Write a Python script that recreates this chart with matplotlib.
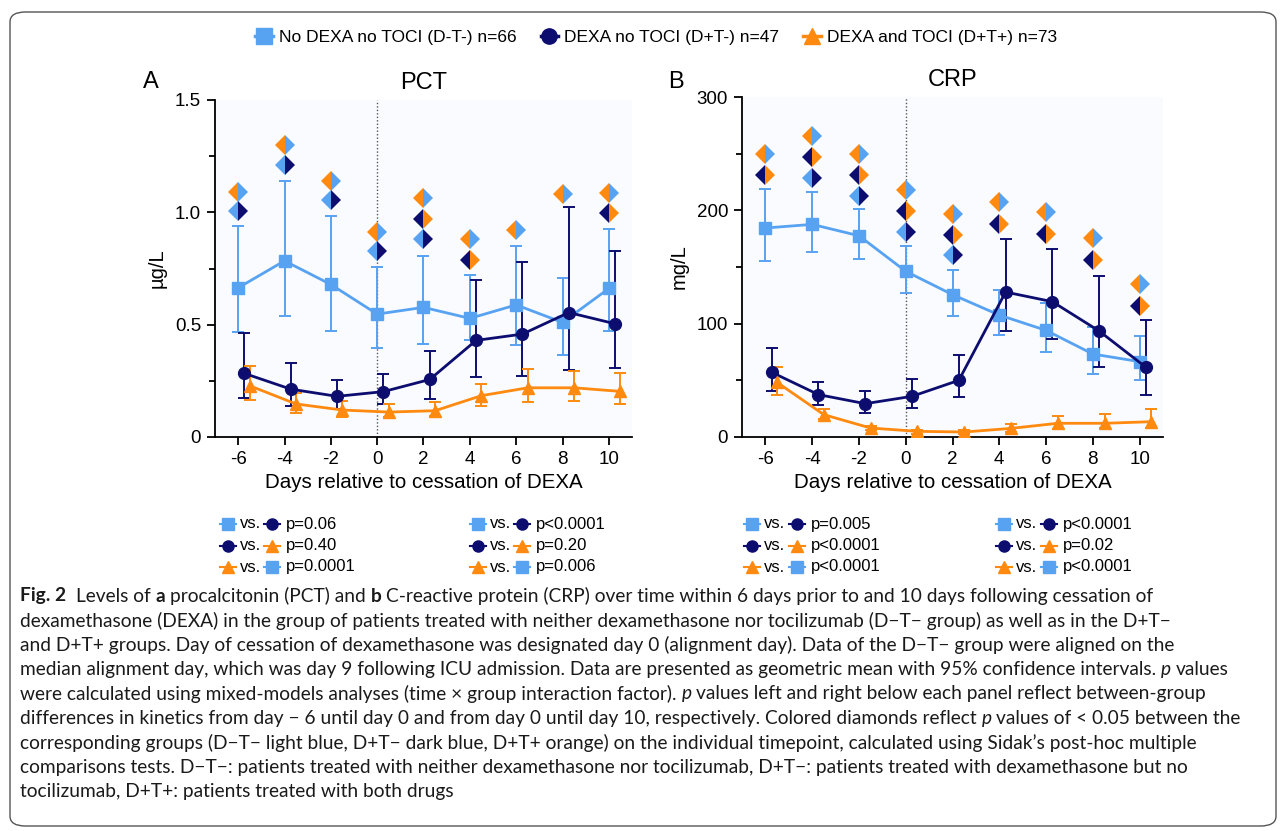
import re
import matplotlib
matplotlib.use("Agg")
import matplotlib.pyplot as plt
from matplotlib.lines import Line2D
from matplotlib.patches import FancyBboxPatch

W, H = 1282, 831

# ---- data ----
days = [-6, -4, -2, 0, 2, 4, 6, 8, 10]

# PCT (ug/L): geometric mean, upper and lower 95% CI
pct_dt = [0.664, 0.784, 0.679, 0.547, 0.577, 0.528, 0.588, 0.510, 0.661]
pct_dt_hi = [0.940, 1.140, 0.984, 0.757, 0.806, 0.723, 0.852, 0.707, 0.928]
pct_dt_lo = [0.468, 0.538, 0.470, 0.394, 0.412, 0.430, 0.408, 0.363, 0.473]
pct_dm = [0.283, 0.213, 0.181, 0.202, 0.256, 0.430, 0.458, 0.554, 0.504]
pct_dm_hi = [0.462, 0.328, 0.255, 0.282, 0.385, 0.698, 0.780, 1.024, 0.829]
pct_dm_lo = [0.173, 0.139, 0.125, 0.147, 0.169, 0.267, 0.270, 0.298, 0.307]
pct_dp = [0.228, 0.147, 0.120, 0.111, 0.117, 0.184, 0.219, 0.219, 0.203]
pct_dp_hi = [0.317, 0.196, 0.162, 0.148, 0.154, 0.237, 0.301, 0.295, 0.286]
pct_dp_lo = [0.163, 0.105, 0.090, 0.090, 0.092, 0.139, 0.157, 0.162, 0.145]

# CRP (mg/L)
crp_dt = [184.4, 187.6, 177.6, 146.2, 125.6, 107.6, 94.1, 73.2, 66.5]
crp_dt_hi = [218.8, 216.2, 201.5, 168.5, 147.4, 130.0, 118.2, 97.1, 88.8]
crp_dt_lo = [155.0, 162.9, 157.1, 127.1, 107.1, 90.0, 75.3, 55.6, 50.0]
crp_dm = [57.1, 37.4, 29.4, 35.9, 50.0, 127.9, 119.4, 93.5, 61.5]
crp_dm_hi = [78.5, 48.5, 40.9, 51.2, 72.6, 175.0, 165.6, 142.1, 103.2]
crp_dm_lo = [40.9, 28.5, 21.5, 25.3, 35.3, 93.8, 86.2, 61.8, 36.8]
crp_dp = [48.2, 19.7, 7.9, 5.0, 4.4, 7.6, 12.1, 12.1, 13.5]
crp_dp_hi = [62.1, 25.0, 10.0, 6.5, 6.5, 11.8, 18.5, 20.0, 24.4]
crp_dp_lo = [37.1, 15.9, 5.9, 2.9, 2.9, 4.1, 7.4, 7.6, 7.9]

# significance diamonds: day, height, left half, right half
# l = D-T- light blue, d = D+T- dark blue, o = D+T+ orange
pct_dia_day = [-6, -6, -4, -4, -2, -2, 0, 0, 2, 2, 2, 4, 4, 6, 8, 10, 10]
pct_dia_y = [1.092, 1.008, 1.300, 1.211, 1.141, 1.055, 0.914, 0.827, 1.063,
             0.971, 0.880, 0.883, 0.790, 0.920, 1.080, 1.088, 0.996]
pct_dia_pair = ["ol", "ld", "ol", "ld", "ol", "ld", "ol", "ld", "ol",
                "do", "ld", "ol", "do", "ol", "ol", "ol", "do"]

crp_dia_day = [-6, -6, -4, -4, -4, -2, -2, -2, 0, 0, 0, 2, 2, 2, 4, 4, 6, 6,
               8, 8, 10, 10]
crp_dia_y = [249.7, 230.9, 265.9, 247.1, 228.8, 249.7, 231.2, 212.9, 217.9,
             199.7, 181.2, 197.1, 178.5, 160.3, 207.1, 188.2, 198.2, 179.4,
             175.3, 156.5, 134.7, 115.9]
crp_dia_pair = ["ol", "do", "ol", "do", "ld", "ol", "do", "ld", "ol", "do",
                "ld", "ol", "do", "ld", "ol", "do", "ol", "do", "ol", "do",
                "ol", "do"]

# p values of the mixed-model analyses (day -6..0 / day 0..10)
comp_pairs = ["ld", "do", "ol"]
pct_p_left = ["p=0.06", "p=0.40", "p=0.0001"]
pct_p_right = ["p<0.0001", "p=0.20", "p=0.006"]
crp_p_left = ["p=0.005", "p<0.0001", "p<0.0001"]
crp_p_right = ["p<0.0001", "p=0.02", "p<0.0001"]

legend_labels = ["No DEXA no TOCI (D-T-) n=66", "DEXA no TOCI (D+T-) n=47",
                 "DEXA and TOCI (D+T+) n=73"]

caption = [
    "**Fig. 2**  Levels of **a** procalcitonin (PCT) and **b** C-reactive protein (CRP) over time within 6 days prior to and 10 days following cessation of",
    "dexamethasone (DEXA) in the group of patients treated with neither dexamethasone nor tocilizumab (D\u2212T\u2212 group) as well as in the D+T\u2212",
    "and D+T+ groups. Day of cessation of dexamethasone was designated day 0 (alignment day). Data of the D\u2212T\u2212 group were aligned on the",
    "median alignment day, which was day 9 following ICU admission. Data are presented as geometric mean with 95% confidence intervals. *p* values",
    "were calculated using mixed-models analyses (time \u00d7 group interaction factor). *p* values left and right below each panel reflect between-group",
    "differences in kinetics from day \u2212 6 until day 0 and from day 0 until day 10, respectively. Colored diamonds reflect *p* values of < 0.05 between the",
    "corresponding groups (D\u2212T\u2212 light blue, D+T\u2212 dark blue, D+T+ orange) on the individual timepoint, calculated using Sidak\u2019s post-hoc multiple",
    "comparisons tests. D\u2212T\u2212: patients treated with neither dexamethasone nor tocilizumab, D+T\u2212: patients treated with dexamethasone but no",
    "tocilizumab, D+T+: patients treated with both drugs",
]

# ---- style ----
LB, DB, OR = "#58a2f2", "#0d0d70", "#ff8a0f"
col = {"l": LB, "d": DB, "o": OR}
mk = {"l": "s", "d": "o", "o": "^"}
FONT = "Liberation Sans"
plt.rcParams["font.family"] = [FONT, "DejaVu Sans"]
plt.rcParams["axes.unicode_minus"] = False

fig = plt.figure(figsize=(W / 100, H / 100), dpi=100)
fig.patch.set_facecolor("white")


def fx(x):
    return x / W


def fy(y):
    return 1 - y / H


border = FancyBboxPatch((fx(10), fy(826)), fx(1266), (826 - 12) / H,
                        boxstyle="round,pad=0,rounding_size=0.012",
                        transform=fig.transFigure, fill=False,
                        edgecolor="#555555", lw=1.0)
fig.add_artist(border)


def panel(rect, ymax, yt, ytl, ymin_t, ylabel, title, letter, letter_x,
          series, dday, dy, dpair):
    ax = fig.add_axes(rect)
    ax.set_facecolor("#f9fbff")
    ax.axvline(0, color="#555555", ls=(0, (1, 1.5)), lw=1.0, zorder=1)
    offs = [0.0, 0.27, 0.5]
    for (key, mean, hi, lo), off in zip(series, offs):
        xs = [d + off for d in days]
        err = [[m - l for m, l in zip(mean, lo)], [h - m for m, h in zip(mean, hi)]]
        ax.errorbar(xs, mean, yerr=err, color=col[key], lw=2, marker=mk[key],
                    ms=8.5 if key != "o" else 9, elinewidth=1.4, capsize=4,
                    capthick=1.4, zorder=3)
    for d, y, p in zip(dday, dy, dpair):
        ax.plot([d], [y], marker="D", ms=10, fillstyle="left",
                markerfacecolor=col[p[0]], markerfacecoloralt=col[p[1]],
                markeredgewidth=0, ls="none", zorder=4)
    ax.set_xlim(-7, 11)
    ax.set_ylim(0, ymax)
    ax.set_xticks(days)
    ax.set_yticks(yt)
    ax.set_yticklabels(ytl)
    ax.set_yticks(ymin_t, minor=True)
    for s in ["top", "right"]:
        ax.spines[s].set_visible(False)
    for s in ["left", "bottom"]:
        ax.spines[s].set_linewidth(1.3)
    ax.tick_params(which="major", direction="out", length=6, width=1.3,
                   labelsize=13.5, pad=4)
    ax.tick_params(which="minor", direction="out", length=4, width=1.3)
    ax.set_xlabel("Days relative to cessation of DEXA", fontsize=14.8, labelpad=4)
    ax.set_ylabel(ylabel, fontsize=14.5, labelpad=6)
    ax.set_title(title, fontsize=17, pad=8)
    fig.text(fx(letter_x), fy(82), letter, fontsize=17, ha="center", va="center")
    return ax


panel([fx(215), fy(437), fx(417), 337 / H], 1.5, [0, 0.5, 1.0, 1.5],
      ["0", "0.5", "1.0", "1.5"], [0.25, 0.75, 1.25], "\u00b5g/L", "PCT", "A", 151,
      [("l", pct_dt, pct_dt_hi, pct_dt_lo), ("d", pct_dm, pct_dm_hi, pct_dm_lo),
       ("o", pct_dp, pct_dp_hi, pct_dp_lo)],
      pct_dia_day, pct_dia_y, pct_dia_pair)

panel([fx(742), fy(437), fx(421), 340 / H], 300, [0, 100, 200, 300],
      ["0", "100", "200", "300"], [50, 150, 250], "mg/L", "CRP", "B", 676,
      [("l", crp_dt, crp_dt_hi, crp_dt_lo), ("d", crp_dm, crp_dm_hi, crp_dm_lo),
       ("o", crp_dp, crp_dp_hi, crp_dp_lo)],
      crp_dia_day, crp_dia_y, crp_dia_pair)

# ---- top legend ----
handles = [Line2D([], [], color=col[k], marker=mk[k], ms=11, lw=2.5) for k in "ldo"]
fig.legend(handles, legend_labels, loc="center", bbox_to_anchor=(fx(656), fy(37)),
           ncol=3, frameon=False, fontsize=12.5, handlelength=1.0,
           handletextpad=0.35, columnspacing=1.4)


# ---- p value tables ----
def key_mark(x, y, k):
    fig.add_artist(Line2D([fx(x - 8), fx(x), fx(x + 8)], [fy(y)] * 3,
                          transform=fig.transFigure, color=col[k], lw=1.5,
                          marker=mk[k], ms=8, markevery=[1]))


def p_table(x0, xs, pl, pr, x2):
    for i, (pair, a, b) in enumerate(zip(comp_pairs, pl, pr)):
        y = 524 + i * 21.5
        for base, ptxt in ((x0, a), (x2, b)):
            key_mark(base, y, pair[0])
            fig.text(fx(base + 12), fy(y), "vs.", fontsize=12, va="center")
            key_mark(base + xs, y, pair[1])
            fig.text(fx(base + xs + 14), fy(y), ptxt, fontsize=12, va="center")


p_table(228, 44, pct_p_left, pct_p_right, 478)
p_table(752, 45, crp_p_left, crp_p_right, 1004)

# ---- caption with bold / italic runs ----
renderer = fig.canvas.get_renderer()
CAP_FAM = ["Lato", "DejaVu Sans"]
CAP_SIZE = 13.8
t1 = fig.text(0, 0, "a a", fontsize=CAP_SIZE, family=CAP_FAM)
t2 = fig.text(0, 0, "aa", fontsize=CAP_SIZE, family=CAP_FAM)
space_w = t1.get_window_extent(renderer).width - t2.get_window_extent(renderer).width
t1.remove()
t2.remove()

for i, line in enumerate(caption):
    y = 596 + i * 24.5
    cur = 20.0
    for part in re.split(r"(\*\*.+?\*\*|\*.+?\*)", line):
        if not part:
            continue
        weight, style = "normal", "normal"
        if part.startswith("**"):
            part, weight = part[2:-2], "bold"
        elif part.startswith("*"):
            part, style = part[1:-1], "italic"
        lead = len(part) - len(part.lstrip(" "))
        trail = len(part) - len(part.rstrip(" "))
        core = part.strip(" ")
        cur += lead * space_w
        if core:
            t = fig.text(fx(cur), fy(y), core, fontsize=CAP_SIZE, family=CAP_FAM,
                         weight=weight, style=style, va="center", color="#1a1a1a")
            cur += t.get_window_extent(renderer).width
        cur += trail * space_w

fig.savefig("out.png", dpi=100)
